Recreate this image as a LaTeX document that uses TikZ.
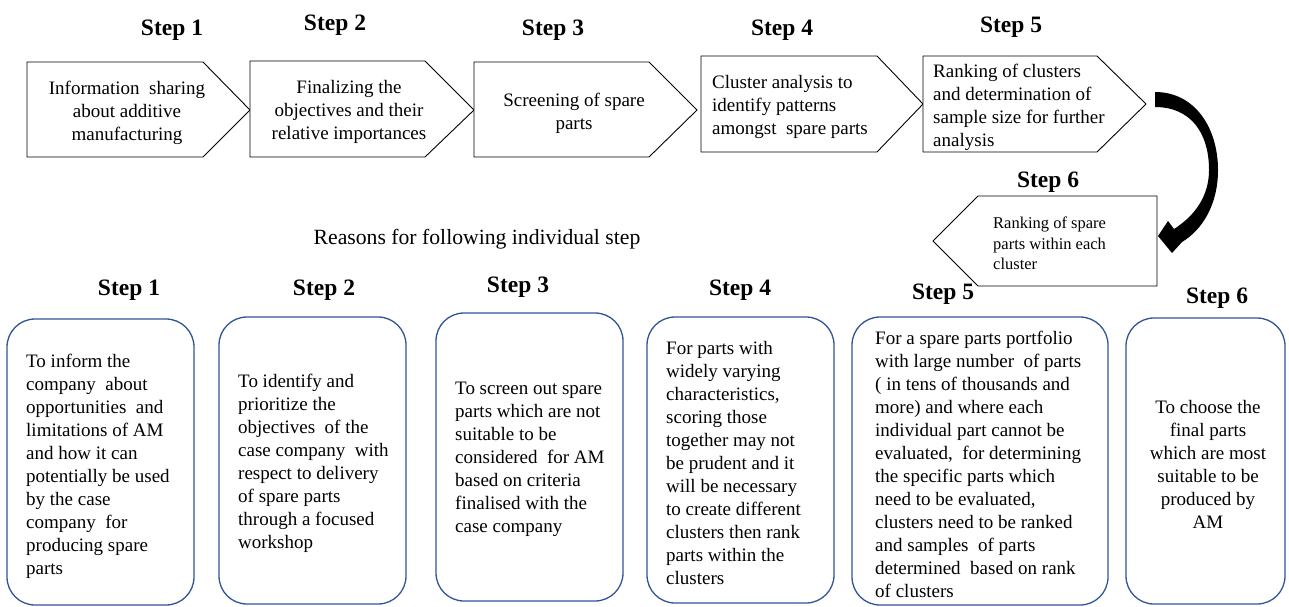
\documentclass[tikz,border=0pt]{standalone}
\usepackage{fontspec}
\setmainfont{Liberation Serif}
\definecolor{boxblue}{RGB}{47,85,151}
\newcommand\bodyfont{\fontsize{19}{23}\selectfont}
\newcommand\smallbody{\fontsize{16.5}{20.5}\selectfont}
\newcommand\stepfont{\fontsize{23.5}{28}\selectfont\bfseries}
\tikzset{
  arrowbox/.style={draw=black, line width=0.9pt, fill=white},
  reasonbox/.style={draw=boxblue, line width=1.3pt, rounded corners=28pt},
  steplabel/.style={font=\stepfont, anchor=base, inner sep=0pt},
  ctext/.style={font=\bodyfont, align=center, inner sep=0pt},
  ltext/.style={font=\bodyfont, align=left, anchor=west, inner sep=0pt},
}
\begin{document}
\begin{tikzpicture}[x=1pt,y=-1pt]
\useasboundingbox (0,0) rectangle (1289,606);
% top process arrows
\draw[arrowbox] (27,62) -- (203,62) -- (250,110) -- (203,157) -- (27,157) -- cycle;
\draw[arrowbox] (250,61) -- (425,61) -- (474,110) -- (425,157) -- (250,157) -- cycle;
\draw[arrowbox] (474,62) -- (649,62) -- (697,110) -- (649,157) -- (474,157) -- cycle;
\draw[arrowbox] (701,56) -- (877,56) -- (923,104) -- (877,152) -- (701,152) -- cycle;
\draw[arrowbox] (923,56) -- (1097,56) -- (1146,104) -- (1097,152) -- (923,152) -- cycle;
\draw[arrowbox] (1157,196) -- (978,196) -- (933,241) -- (978,286) -- (1157,286) -- cycle;
% top labels
\node[steplabel] (ts1) at (172,35) {Step 1};
\node[steplabel] (ts2) at (335,30) {Step 2};
\node[steplabel] (ts3) at (553,35) {Step 3};
\node[steplabel] (ts4) at (782,35) {Step 4};
\node[steplabel] (ts5) at (1011,32) {Step 5};
\node[steplabel] (ts6) at (1048,187) {Step 6};
% top texts
\node[ctext] (t1) at (127,113) {Information\ \ sharing\\about additive\\manufacturing};
\node[ctext] (t2) at (349,112) {Finalizing the\\objectives and their\\relative importances};
\node[ctext] (t3) at (574,113) {Screening of spare\\parts};
\node[ltext] (t4) at (712,107) {Cluster analysis to\\identify patterns\\amongst\ \ spare parts};
\node[ltext] (t5) at (933,107.5) {Ranking of clusters\\and determination of\\sample size for further\\analysis};
\node[ltext, font=\smallbody] (t6) at (993,243.5) {Ranking of spare\\parts within each\\cluster};
% curved block arrow from step 5 to step 6
\coordinate (c5) at (1155,99);
\coordinate (c6) at (1158,236);
\fill[black] (1155,92) .. controls (1195,92) and (1218,128) .. (1218,170)
  .. controls (1218,205) and (1202,230) .. (1182,242)
  -- (1172,253) -- (c6) -- (1168,221) -- (1174,229)
  .. controls (1196,215) and (1209,195) .. (1209,170)
  .. controls (1209,132) and (1190,107) .. (1155,107) -- cycle;
% middle heading
\node[font=\fontsize{21.7}{26}\selectfont, anchor=base, inner sep=0pt] (reasons) at (477,244) {Reasons for following individual step};
% bottom labels
\node[steplabel] (bs1) at (129,295) {Step 1};
\node[steplabel] (bs2) at (324,295) {Step 2};
\node[steplabel] (bs3) at (518,292) {Step 3};
\node[steplabel] (bs4) at (740,295) {Step 4};
\node[steplabel] (bs5) at (943,299) {Step 5};
\node[steplabel] (bs6) at (1217,303) {Step 6};
% bottom boxes
\draw[reasonbox] (7,319) rectangle (194,605);
\draw[reasonbox] (219,317) rectangle (406,604);
\draw[reasonbox] (436,313) rectangle (623,601);
\draw[reasonbox] (647,317) rectangle (834,603);
\draw[reasonbox] (852,317) rectangle (1108,605);
\draw[reasonbox] (1126,318) rectangle (1285,604);
% bottom texts
\node[ltext] (r1) at (26,466) {To inform the\\company\ \ about\\opportunities\ \ and\\limitations of AM\\and how it can\\potentially be used\\by the case\\company\ \ for\\producing spare\\parts};
\node[ltext] (r2) at (238,463) {To identify and\\prioritize the\\objectives\ \ of the\\case company\ \ with\\respect to delivery\\of spare parts\\through a focused\\workshop};
\node[ltext] (r3) at (455,459) {To screen out spare\\parts which are not\\suitable to be\\considered\ \ for AM\\based on criteria\\finalised with the\\case company};
\node[ltext] (r4) at (666,463) {For parts with\\widely varying\\characteristics,\\scoring those\\together may not\\be prudent and it\\will be necessary\\to create different\\clusters then rank\\parts within the\\clusters};
\node[ltext] (r5) at (875,464) {For a spare parts portfolio\\with large number\ \ of parts\\( in tens of thousands and\\more) and where each\\individual part cannot be\\evaluated,\ \ for determining\\the specific parts which\\need to be evaluated,\\clusters need to be ranked\\and samples\ \ of parts\\determined\ \ based on rank\\of clusters};
\node[ctext] (r6) at (1208,464) {To choose the\\final parts\\which are most\\suitable to be\\produced by\\AM};
\end{tikzpicture}
\end{document}
